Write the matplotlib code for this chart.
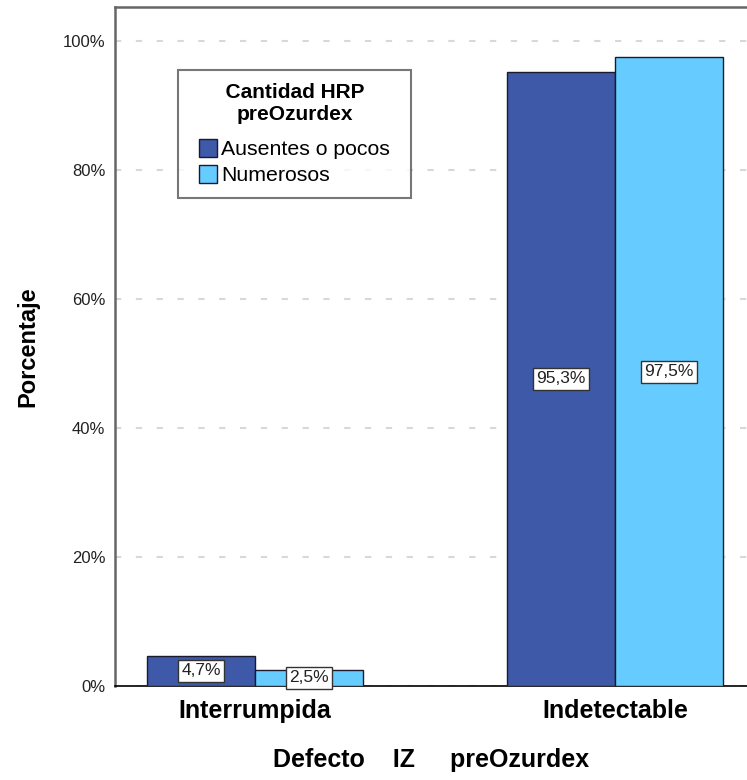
import matplotlib
matplotlib.use("Agg")
import matplotlib.pyplot as plt
import numpy as np
from matplotlib.ticker import FuncFormatter

plt.rcParams['font.family'] = ['Liberation Sans', 'DejaVu Sans']

categories = ["Interrumpida", "Indetectable"]
series_names = ["Ausentes o pocos", "Numerosos"]
ausentes = [4.7, 95.3]
numerosos = [2.5, 97.5]
colors = ["#3F59A9", "#66CCFF"]

fig = plt.figure(figsize=(7.47, 7.80), dpi=100)
ax = fig.add_axes([0.154, 0.1205, 0.846, 0.8705])

x = np.arange(len(categories))
w = 0.3
for i, (vals, col, name) in enumerate(zip([ausentes, numerosos], colors, series_names)):
    b = ax.bar(x + (i - 0.5) * w, vals, width=w, color=col, edgecolor="#1a1a2e",
               linewidth=1.0, label=name, zorder=3)
    for rect, v in zip(b, vals):
        ax.text(rect.get_x() + rect.get_width() / 2, v / 2,
                f"{v:.1f}%".replace(".", ","), ha="center", va="center",
                fontsize=12.5, color="#222222", zorder=5,
                bbox=dict(boxstyle="square,pad=0.2", fc="white", ec="#333333", lw=1))

ax.set_xlim(-0.389, 1.367)
ax.set_ylim(0, 105.3)
ax.set_yticks([0, 20, 40, 60, 80, 100])
ax.yaxis.set_major_formatter(FuncFormatter(lambda v, p: f"{int(v)}%"))
ax.tick_params(axis="y", length=0, labelsize=12, pad=7, colors="#222222")
ax.tick_params(axis="x", length=0, labelsize=18, pad=9)
ax.set_xticks(x)
ax.set_xticklabels(categories, fontweight="bold")
ax.yaxis.grid(True, linestyle=(0, (3, 7)), color="#d8d8d8", linewidth=1.5, zorder=0)

for s in ["top", "left"]:
    ax.spines[s].set_color("#666666")
    ax.spines[s].set_linewidth(1.8)
ax.spines["right"].set_visible(False)
ax.spines["bottom"].set_color("black")
ax.spines["bottom"].set_linewidth(1.2)

ax.set_ylabel("Porcentaje", fontsize=17, fontweight="bold", labelpad=17)
ax.set_xlabel("Defecto    IZ     preOzurdex", fontsize=18, fontweight="bold", labelpad=18)

# Padded title line keeps the entries centred inside a wider frame
leg = ax.legend(title="      Cantidad HRP      \npreOzurdex", loc="upper left",
                bbox_to_anchor=(0.0997, 0.907), fontsize=15.3, title_fontsize=15,
                frameon=True, fancybox=False, handlelength=0.85, handleheight=0.9,
                handletextpad=0.2, labelspacing=0.28, borderpad=0.6, borderaxespad=0)
leg.get_title().set_fontweight("bold")
leg.get_title().set_multialignment("center")
leg.get_frame().set_edgecolor("#555555")
leg.get_frame().set_linewidth(1.5)
leg._legend_box.align = "center"
leg._legend_box.sep = 11

fig.savefig("out.png", dpi=100)
